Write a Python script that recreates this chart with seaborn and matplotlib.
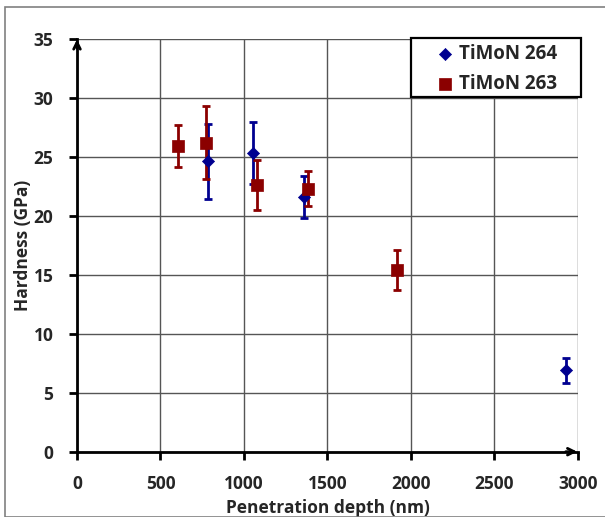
import matplotlib
matplotlib.use("Agg")
import matplotlib.pyplot as plt
import seaborn as sns
import pandas as pd
from matplotlib.patches import Rectangle

# Data
depth_264 = [786, 1056, 1357, 2928]
hard_264 = [24.6, 25.3, 21.6, 6.9]
err_264 = [3.15, 2.6, 1.8, 1.05]

depth_263 = [607, 772, 1076, 1381, 1918]
hard_263 = [25.9, 26.2, 22.6, 22.3, 15.4]
err_263 = [1.75, 3.1, 2.1, 1.5, 1.7]

series_names = ["TiMoN 264", "TiMoN 263"]
x_ticks = [0, 500, 1000, 1500, 2000, 2500, 3000]
y_ticks = [0, 5, 10, 15, 20, 25, 30, 35]

colors = {"TiMoN 264": "#000090", "TiMoN 263": "#8B0000"}
markers = {"TiMoN 264": "D", "TiMoN 263": "s"}
sizes = {"TiMoN 264": 38, "TiMoN 263": 85}

df = pd.concat([
    pd.DataFrame({"depth": depth_264, "hard": hard_264, "err": err_264, "series": series_names[0]}),
    pd.DataFrame({"depth": depth_263, "hard": hard_263, "err": err_263, "series": series_names[1]}),
], ignore_index=True)

sns.set_style("white")
plt.rcParams['font.family'] = ['Open Sans', 'DejaVu Sans']
plt.rcParams['font.weight'] = 'bold'
FS = 12.5
W, H = 605, 517

fig = plt.figure(figsize=(6.05, 5.17), dpi=100)
ax = fig.add_axes([77/W, 1-451.7/H, 501/W, 413/H])

# figure border
fig.patches.append(Rectangle((5/W, 0), 1, 1 - 7/H, transform=fig.transFigure,
                             fill=False, edgecolor='#808080', lw=1.2))

ax.set_xlim(0, 3000)
ax.set_ylim(0, 35)
ax.set_xticks(x_ticks)
ax.set_yticks(y_ticks)
ax.grid(True, color='#555555', lw=1.0)
ax.set_axisbelow(True)

for name in series_names:
    sub = df[df.series == name]
    ax.errorbar(sub.depth, sub.hard, yerr=sub.err, fmt='none', ecolor=colors[name],
                elinewidth=2, capsize=3, capthick=2, zorder=3)

for name in series_names:
    sub = df[df.series == name]
    sns.scatterplot(data=sub, x="depth", y="hard", ax=ax, color=colors[name],
                    marker=markers[name], s=sizes[name], edgecolor=colors[name],
                    linewidth=0.5, label=name, zorder=4)

for s in ['top', 'right']:
    ax.spines[s].set_visible(False)
for s in ['left', 'bottom']:
    ax.spines[s].set_linewidth(2)
    ax.spines[s].set_color('black')
    ax.spines[s].set_zorder(5)

# arrowheads
ax.annotate('', xy=(1.004, 0), xytext=(0.97, 0), xycoords='axes fraction',
            arrowprops=dict(arrowstyle='->', lw=2, color='black', mutation_scale=12), annotation_clip=False)
ax.annotate('', xy=(0, 1.005), xytext=(0, 0.97), xycoords='axes fraction',
            arrowprops=dict(arrowstyle='->', lw=2, color='black', mutation_scale=12), annotation_clip=False)

ax.tick_params(axis='both', direction='out', length=6, width=2, color='black',
               labelsize=FS, pad=11, bottom=True, left=True)
for lab in ax.get_xticklabels() + ax.get_yticklabels():
    lab.set_fontweight('bold')

ax.set_xlabel("Penetration depth (nm)", fontsize=FS, fontweight='bold', labelpad=4)
ax.set_ylabel("Hardness (GPa)", fontsize=FS, fontweight='bold', labelpad=1)

# legend frame drawn separately
ax.add_patch(Rectangle((411/W, 1 - 97/H), 170/W, 59/H, transform=fig.transFigure,
                       facecolor='white', edgecolor='black', lw=1.6, zorder=6, clip_on=False))
leg = ax.legend(loc='center left', bbox_to_anchor=(437/W, 1 - 69/H),
                bbox_transform=fig.transFigure, frameon=False,
                prop={'weight': 'bold', 'size': 13.5},
                handletextpad=0.3, borderpad=0.0, labelspacing=0.55, handlelength=0.85,
                borderaxespad=0.0)
leg.set_zorder(7)

fig.savefig("out.png", dpi=100)
